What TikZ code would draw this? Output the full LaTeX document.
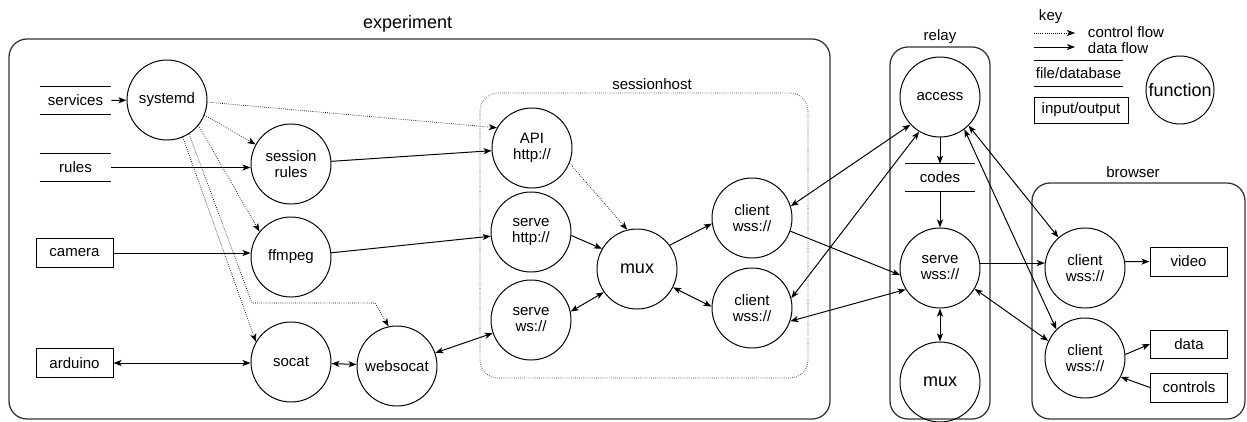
\documentclass[tikz,border=0pt]{standalone}
\usepackage{fontspec}
\setmainfont{Liberation Sans}
\usetikzlibrary{arrows.meta}

\begin{document}
\begin{tikzpicture}
[
  font=\fontsize{10.7}{11.4}\selectfont,
  tip/.tip={Stealth[length=2mm,width=1.5mm,inset=0.5mm]},
  fn/.style={circle,draw,line width=0.7pt,minimum size=2cm,inner sep=0pt,align=center},
  io/.style={draw,line width=0.7pt,minimum width=1.925cm,minimum height=0.725cm,inner sep=0pt},
  db/.style={minimum width=1.775cm,minimum height=0.675cm,inner sep=0pt},
  frame/.style={draw,line width=0.9pt,black!80,rounded corners=0.45cm},
  big/.style={font=\fontsize{12.8}{14}\selectfont},
  dflow/.style={line width=0.7pt,-tip},
  dboth/.style={line width=0.7pt,tip-tip},
  cflow/.style={line width=0.5pt,densely dotted,-tip}
]

\useasboundingbox (0,0) rectangle (31.175,-10.525);

% enclosures
\draw[frame] (0.225,-0.975) rectangle (20.75,-10.475);
\node[big] (explabel) at (10.19,-0.6) {experiment};

\draw[frame,line width=0.5pt,densely dotted] (12,-2.325) rectangle (20.2,-9.45);
\node (hostlabel) at (16.3,-2.1) {sessionhost};

\draw[frame] (22.25,-1.175) rectangle (24.75,-10.475);
\node (relaylabel) at (23.5,-0.925) {relay};

\draw[frame] (25.8,-4.575) rectangle (31.125,-10.475);
\node (browserlabel) at (28.325,-4.3) {browser};


% experiment
\node[db] (services) at (1.8875,-2.5125) {services};
\node[db] (rules) at (1.8875,-4.1875) {rules};
\node[io] (camera) at (1.8625,-6.325) {camera};
\node[io] (arduino) at (1.8625,-9.075) {arduino};

\node[fn] (systemd) at (4.175,-2.5) {systemd};
\node[fn] (srules) at (7.275,-4.1) {session\\rules};
\node[fn] (ffmpeg) at (7.275,-6.425) {ffmpeg};
\node[fn] (socat) at (7.275,-9.05) {socat};
\node[fn] (websocat) at (9.925,-9.15) {websocat};

\node[fn] (api) at (13.3,-3.7) {API\\http://};
\node[fn] (shttp) at (13.275,-5.8) {serve\\http://};
\node[fn] (sws) at (13.275,-8.0) {serve\\ws://};
\node[fn,big] (mux) at (15.925,-6.725) {mux};
\node[fn] (clientA) at (18.8,-5.45) {client\\wss://};
\node[fn] (clientB) at (18.8,-7.7) {client\\wss://};


% relay
\node[fn] (access) at (23.5,-2.425) {access};
\node[db,minimum width=1.75cm] (codes) at (23.5,-4.4375) {codes};
\node[fn] (swss) at (23.5,-6.7) {serve\\wss://};
\node[fn,big] (rmux) at (23.5,-9.55) {mux};


% browser
\node[fn] (bclientA) at (27.125,-6.7) {client\\wss://};
\node[fn] (bclientB) at (27.125,-8.95) {client\\wss://};
\node[io] (video) at (29.7125,-6.5375) {video};
\node[io,minimum height=0.7cm] (data) at (29.725,-8.6) {data};
\node[io] (controls) at (29.725,-9.6875) {controls};


% key
\node[anchor=west] (keylabel) at (25.85,-0.425) {key};
\coordinate (cfa) at (25.85,-0.825);
\coordinate (cfb) at (26.875,-0.825);
\coordinate (dfa) at (25.85,-1.175);
\coordinate (dfb) at (26.875,-1.175);
\node[anchor=west] (cflabel) at (27.075,-0.8) {control flow};
\node[anchor=west] (dflabel) at (27.075,-1.2) {data flow};
\draw[cflow] (cfa) -- (cfb);
\draw[dflow] (dfa) -- (dfb);
\node[db,minimum width=2.225cm,minimum height=0.625cm] (dbkey) at (26.9625,-1.8375) {file/database};
\node[io,minimum width=2.35cm,minimum height=0.65cm] (iokey) at (27.025,-2.75) {input/output};
\node[fn,big,minimum size=1.7cm] (fnkey) at (29.5,-2.25) {function};

\foreach \n in {services,rules,codes,dbkey}
  \draw[line width=0.7pt] (\n.north west) -- (\n.north east) (\n.south west) -- (\n.south east);


% control flow
\coordinate (bendA) at (6.3,-7.575);
\coordinate (bendB) at (9.375,-7.575);

\draw[cflow] (systemd.-3) -- (api.150);
\draw[cflow] (systemd.-22) -- (srules.151);
\draw[cflow] (systemd.-39) -- (ffmpeg.141);
\draw[cflow] (systemd.-67) -- (socat.150);
\draw[cflow] (systemd.-57) -- (bendA) -- (bendB) -- (websocat.102);
\draw[cflow] (api.-22) -- (mux.104);


% data flow
\draw[dflow] (services) -- (systemd);
\draw[dflow] (rules) -- (rules -| srules.west);
\draw[dflow] (camera) -- (camera -| ffmpeg.west);
\draw[dboth] (arduino) -- (arduino -| socat.west);
\draw[dboth] (socat) -- (websocat);
\draw[dboth] (websocat) -- (sws);

\draw[dflow] (srules) -- (api);
\draw[dflow] (ffmpeg) -- (shttp);
\draw[dflow] (shttp.-5) -- (mux.150);
\draw[dboth] (sws.12) -- (mux.215);
\draw[dflow] (mux.36) -- (clientA.188);
\draw[dboth] (mux.-27) -- (clientB.178);

\draw[dboth] (clientA.17) -- (access.223);
\draw[dboth] (clientB.14) -- (access.239);
\draw[dflow] (clientA.-19) -- (swss.190);
\draw[dboth] (clientB.-19) -- (swss.212);

\draw[dflow] (access) -- (codes);
\draw[dflow] (codes) -- (swss);
\draw[dboth] (swss) -- (rmux);

\draw[dflow] (swss.7) -- (bclientA.173);
\draw[dboth] (access.-45) -- (bclientA.131);
\draw[dboth] (access.-53) -- (bclientB.135);
\draw[dboth] (swss.-31) -- (bclientB.155);

\draw[dflow] (bclientA.9) -- (video);
\draw[dflow] (bclientB.5) -- (data.west);
\draw[dflow] (controls.west) -- (bclientB.-28);

\end{tikzpicture}
\end{document}
